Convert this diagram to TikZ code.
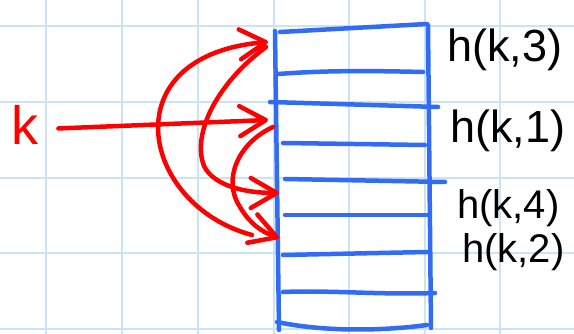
\documentclass[tikz,border=0pt]{standalone}
\usepackage{fontspec}
\setmainfont{Liberation Sans}
\usetikzlibrary{arrows.meta}
\definecolor{gridblue}{RGB}{203,228,245}
\definecolor{penblue}{RGB}{50,108,245}
\definecolor{penred}{RGB}{255,0,0}
\begin{document}
\begin{tikzpicture}[x=1pt,y=-1pt,
  gridline/.style={gridblue,line width=2.2pt},
  pen/.style={penblue,line width=4.5pt,line cap=round,line join=round},
  redpen/.style={penred,line width=4.5pt,line cap=round,line join=round},
  probe/.style={redpen,-{Straight Barb[length=26pt,width=30pt,round]}},
  hlabel/.style={font=\fontsize{45}{45}\selectfont,inner sep=0pt,anchor=base west},
  hsmall/.style={hlabel,font=\fontsize{40}{40}\selectfont},
  klabel/.style={font=\fontsize{54}{54}\selectfont,text=penred,inner sep=0pt,anchor=base west}]
\fill[white] (0,0) rectangle (574,334);
\useasboundingbox (0,0) rectangle (574,334);
% grid paper
\foreach \x in {46,122,198,274,349,425,500} \draw[gridline] (\x,0) -- (\x,334);
\foreach \y in {26,102,178,253,329} \draw[gridline] (0,\y) -- (574,\y);
% table
\draw[pen] (275,31) -- (279,330);
\draw[pen] (280,32) -- (427,24);
\draw[pen] (428,25) -- (431,328);
\draw[pen] (277,322) .. controls (330,333) and (390,330) .. (427,325);
\draw[pen] (278,74) .. controls (330,70) and (380,71) .. (423,72);
\draw[pen] (270,102) -- (438,107);
\draw[pen] (283,143) -- (425,145);
\draw[pen] (285,179) -- (445,182);
\draw[pen] (285,215) -- (427,215);
\draw[pen] (283,255) -- (427,252);
\draw[pen] (283,292) .. controls (330,290) and (380,295) .. (435,293);
% labels
\node[hlabel] (h3) at (447,62) {h(k,3)};
\node[hlabel] (h1) at (450,143) {h(k,1)};
\node[hsmall] (h4) at (457,219) {h(k,4)};
\node[hsmall] (h2) at (462,263) {h(k,2)};
\node[klabel] (k) at (11,145) {k};
% slot targets
\coordinate (t3) at (268,42);
\coordinate (t1) at (268,120);
\coordinate (t4) at (279,193);
\coordinate (t2) at (279,238);
\coordinate (f1) at (273,127);
\coordinate (f2) at (252,235);
\coordinate (f3) at (266,47);
% probes
\draw[probe] ([xshift=20pt,yshift=-3pt]k.east) -- (t1);
\draw[probe] (f1) .. controls (238,143) and (222,180) .. (240,207)
  .. controls (250,224) and (262,232) .. (t2);
\draw[probe] (f2) .. controls (140,205) and (110,55) .. (t3);
\draw[probe] (f3) .. controls (215,85) and (192,135) .. (204,166)
  .. controls (214,186) and (245,193) .. (t4);
\end{tikzpicture}
\end{document}
